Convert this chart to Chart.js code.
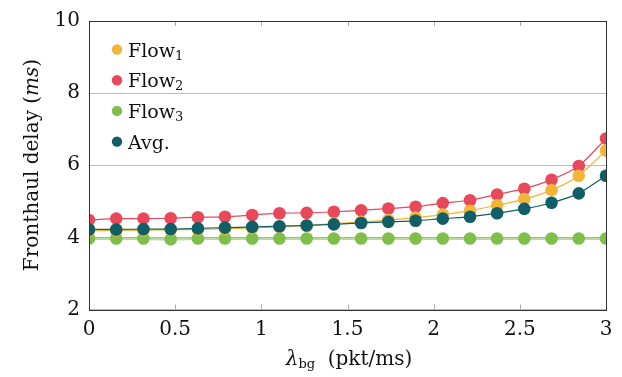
<!DOCTYPE html>
<html>
<head>
<meta charset="utf-8">
<script src="https://cdn.jsdelivr.net/npm/chart.js@4.4.1/dist/chart.umd.min.js"></script>
<style>
  html, body { margin: 0; padding: 0; background: #fff; }
  #wrap { width: 622px; height: 377px; }
</style>
</head>
<body>
<div id="wrap"><canvas id="delayChart" width="622" height="377"></canvas></div>
<script>
// Data
// **************************************
const lambdaBg = [0, 0.158, 0.316, 0.474, 0.632, 0.789, 0.947, 1.105, 1.263, 1.421,
  1.579, 1.737, 1.895, 2.053, 2.211, 2.368, 2.526, 2.684, 2.842, 3];
const flow1 = [4.18, 4.19, 4.20, 4.21, 4.22, 4.24, 4.26, 4.29, 4.33, 4.38,
  4.43, 4.48, 4.55, 4.63, 4.74, 4.89, 5.06, 5.31, 5.71, 6.41];
const flow2 = [4.48, 4.52, 4.52, 4.53, 4.56, 4.57, 4.62, 4.67, 4.68, 4.71,
  4.75, 4.80, 4.85, 4.95, 5.03, 5.19, 5.35, 5.60, 5.98, 6.74];
const flow3 = [3.97, 3.97, 3.97, 3.95, 3.97, 3.97, 3.97, 3.97, 3.97, 3.97,
  3.97, 3.97, 3.97, 3.97, 3.97, 3.97, 3.97, 3.97, 3.97, 3.97];
const avgDelay = [4.22, 4.22, 4.23, 4.23, 4.25, 4.27, 4.29, 4.31, 4.33, 4.36,
  4.40, 4.43, 4.46, 4.52, 4.57, 4.67, 4.79, 4.96, 5.22, 5.71];

const xTicks = [0, 0.5, 1, 1.5, 2, 2.5, 3];
const yTicks = [2, 4, 6, 8, 10];
const legendNames = ['Flow', 'Flow', 'Flow', 'Avg.'];
const legendSubs = ['1', '2', '3', ''];

const ORANGE = 'rgb(243, 181, 56)';
const RED = 'rgb(232, 72, 89)';
const GREEN = 'rgb(128, 190, 75)';
const TEAL = 'rgb(17, 94, 103)';
const SERIF = '"DejaVu Serif", "Liberation Serif", serif';

const toPts = (ys) => ys.map((y, i) => ({ x: lambdaBg[i], y: y }));

function series(label, ys, color, order, extra) {
  return Object.assign({
    label: label,
    data: toPts(ys),
    borderColor: color,
    backgroundColor: color,
    pointBackgroundColor: color,
    pointBorderWidth: 0,
    pointRadius: 6.3,
    borderWidth: 1.2,
    tension: 0.25,
    order: order,
  }, extra || {});
}

// draw pieces of text one after another, returns nothing
function drawRun(ctx, parts, x, y, align) {
  let total = 0;
  parts.forEach((p) => { ctx.font = p.font; p.w = ctx.measureText(p.text).width; total += p.w; });
  let sx = align === 'center' ? x - total / 2 : x;
  parts.forEach((p) => {
    ctx.font = p.font;
    ctx.fillText(p.text, sx, y + (p.dy || 0));
    sx += p.w;
  });
}

// Plugin: frame, tick marks, axis titles, legend
// **************************************
const decorations = {
  id: 'decorations',
  afterDatasetsDraw(chart) {
    const { ctx, chartArea: a, scales } = chart;
    ctx.save();
    // small inside ticks top & bottom
    ctx.strokeStyle = '#aaaaaa';
    ctx.lineWidth = 1;
    xTicks.forEach((t) => {
      const px = Math.round(scales.x.getPixelForValue(t)) + 0.5;
      ctx.beginPath();
      ctx.moveTo(px, a.bottom); ctx.lineTo(px, a.bottom - 5);
      ctx.moveTo(px, a.top); ctx.lineTo(px, a.top + 5);
      ctx.stroke();
    });
    // frame
    ctx.strokeStyle = '#333333';
    ctx.strokeRect(Math.round(a.left) + 0.5, Math.round(a.top) + 0.5,
      Math.round(a.right - a.left), Math.round(a.bottom - a.top));

    // legend
    const colors = [ORANGE, RED, GREEN, TEAL];
    ctx.textBaseline = 'alphabetic';
    ctx.textAlign = 'left';
    legendNames.forEach((name, i) => {
      const y = 49.5 + i * 30.7;
      ctx.fillStyle = colors[i];
      ctx.beginPath();
      ctx.arc(117, y, 5.2, 0, Math.PI * 2);
      ctx.fill();
      ctx.fillStyle = '#111';
      const parts = [{ text: name, font: '19px ' + SERIF }];
      if (legendSubs[i]) parts.push({ text: legendSubs[i], font: '13px ' + SERIF, dy: 3 });
      drawRun(ctx, parts, 128, y + 7, 'left');
    });

    // x axis title: λbg (pkt/ms)
    ctx.fillStyle = '#111';
    drawRun(ctx, [
      { text: 'λ', font: 'italic 20px ' + SERIF },
      { text: 'bg', font: '13px ' + SERIF, dy: 3 },
      { text: '  (pkt/ms)', font: '20px ' + SERIF },
    ], 349, 365, 'center');

    // y axis title: Fronthaul delay (ms)
    ctx.translate(38, 165);
    ctx.rotate(-Math.PI / 2);
    drawRun(ctx, [
      { text: 'Fronthaul delay (', font: '20px ' + SERIF },
      { text: 'ms', font: 'italic 20px ' + SERIF },
      { text: ')', font: '20px ' + SERIF },
    ], 0, 0, 'center');
    ctx.restore();
  },
};

// Config
// **************************************
const config = {
  type: 'line',
  data: {
    datasets: [
      series('Flow1', flow1, ORANGE, 3),
      series('Flow2', flow2, RED, 4),
      series('Flow3', flow3, GREEN, 5, {
        borderColor: 'rgba(128, 190, 75, 0.55)',
        borderWidth: 3,
        tension: 0,
      }),
      series('Avg.', avgDelay, TEAL, 1),
    ],
  },
  options: {
    responsive: false,
    animation: false,
    layout: { padding: { top: 19, right: 16, left: 0, bottom: 0 } },
    plugins: {
      legend: { display: false },
      tooltip: { enabled: false },
    },
    scales: {
      x: {
        type: 'linear',
        min: 0,
        max: 3,
        afterBuildTicks: (s) => { s.ticks = xTicks.map((v) => ({ value: v })); },
        afterFit: (s) => { s.height = 67.5; },
        grid: { display: false, drawTicks: false },
        border: { display: false },
        ticks: {
          color: '#111',
          padding: 8,
          font: { family: SERIF, size: 20 },
          callback: (v) => String(v),
        },
      },
      y: {
        min: 2,
        max: 10,
        afterBuildTicks: (s) => { s.ticks = yTicks.map((v) => ({ value: v })); },
        afterFit: (s) => { s.width = 89; },
        grid: { color: '#bdbdbd', lineWidth: 1, drawTicks: false },
        border: { display: false },
        ticks: {
          color: '#111',
          padding: 9,
          font: { family: SERIF, size: 20 },
        },
      },
    },
  },
  plugins: [decorations],
};

new Chart(document.getElementById('delayChart'), config);
</script>
</body>
</html>
